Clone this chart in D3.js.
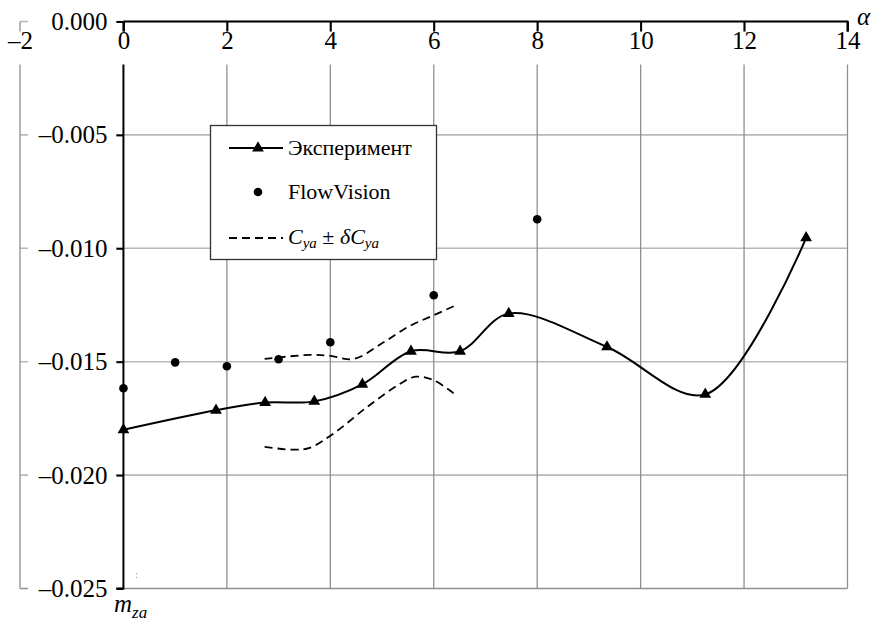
<!DOCTYPE html>
<html>
<head>
<meta charset="utf-8">
<script src="https://cdn.jsdelivr.net/npm/d3@7"></script>
</head>
<body style="margin:0">
<script>
// experiment (triangles + smooth line)
const expAlpha = [0, 1.79, 2.74, 3.69, 4.62, 5.56, 6.51, 7.45, 9.35, 11.25, 13.2];
const expM = [-0.0180, -0.01714, -0.0168, -0.01675, -0.0160, -0.01454, -0.01454, -0.01288, -0.01435, -0.01644, -0.00954];

// FlowVision points
const fvAlpha = [0, 1, 2, 3, 4, 6, 8];
const fvM = [-0.01617, -0.01503, -0.0152, -0.01489, -0.01414, -0.01207, -0.00872];

// Cya +- dCya band (dashed)
const upAlpha = [2.73, 3.6, 4.0, 4.45, 5.0, 5.5, 6.0, 6.43];
const upM = [-0.01488, -0.01470, -0.01474, -0.01488, -0.01419, -0.01347, -0.01295, -0.01251];
const loAlpha = [2.73, 3.3, 3.6, 4.06, 4.71, 5.35, 5.65, 6.0, 6.43];
const loM = [-0.01876, -0.01888, -0.01880, -0.01817, -0.01700, -0.01597, -0.01566, -0.01582, -0.01647];

// tick labels
const xTicks = [-2, 0, 2, 4, 6, 8, 10, 12, 14];
const yTicks = [0, -0.005, -0.010, -0.015, -0.020, -0.025];

const serif = "'Liberation Serif'";

const width = 874;
const height = 626;
const margin = { top: 21.5, bottom: 37.5, left: 20, right: 26.5 };

const x = d3.scaleLinear()
  .domain([-2, 14])
  .range([margin.left, width - margin.right]);
const y = d3.scaleLinear()
  .domain([-0.025, 0])
  .range([height - margin.bottom, margin.top]);

const svg = d3.select("body")
  .append("svg")
  .attr("width", width)
  .attr("height", height)
  .style("display", "block");

const fmtY = d => d === 0 ? "0.000" : "\u2013" + d3.format(".3f")(-d);

// gridlines
svg.append("g")
  .selectAll("line")
  .data(yTicks)
  .join("line")
  .attr("x1", x(-2)).attr("x2", x(14))
  .attr("y1", d => y(d)).attr("y2", d => y(d))
  .attr("stroke", d => d === -0.025 ? "#8f8f8f" : "#b8b8b8")
  .attr("stroke-width", 1.6);

svg.append("g")
  .selectAll("line")
  .data(xTicks.filter(d => d !== 0))
  .join("line")
  .attr("x1", d => x(d)).attr("x2", d => x(d))
  .attr("y1", y(0)).attr("y2", y(-0.025))
  .attr("stroke", "#8f8f8f")
  .attr("stroke-width", 1.3);

// white boxes behind y labels
svg.append("g")
  .selectAll("rect")
  .data(yTicks)
  .join("rect")
  .attr("x", 28).attr("width", 88)
  .attr("y", d => y(d) - 15).attr("height", 30)
  .attr("fill", "#fff");

// y axis
function yAxis(g) {
  g.attr("transform", `translate(${x(0)},0)`)
    .call(d3.axisLeft(y).tickValues(yTicks).tickFormat(fmtY).tickSize(7).tickPadding(9));
  g.attr("font-size", null).attr("font-family", null);
  g.selectAll("path, line").attr("stroke", "#000").attr("stroke-width", 2);
  g.select(".domain").attr("d", `M-7,${y(-0.025)}H0V${y(0)}`);
  g.selectAll("text").attr("fill", "#000").attr("font-size", "25px");
}
svg.append("g").call(yAxis);

// white boxes behind x labels
svg.append("g")
  .selectAll("rect")
  .data(xTicks)
  .join("rect")
  .attr("x", d => x(d) - 18).attr("width", 36)
  .attr("y", 31.5).attr("height", 33)
  .attr("fill", "#fff");

// x axis (on top, at m = 0)
function xAxis(g) {
  g.attr("transform", `translate(0,${y(0)})`)
    .call(d3.axisBottom(x).tickValues(xTicks).tickFormat(d => d < 0 ? "\u2013" + (-d) : d).tickSize(10).tickPadding(0));
  g.attr("font-size", null).attr("font-family", null);
  g.selectAll("path, line").attr("stroke", "#000").attr("stroke-width", 2);
  g.select(".domain").attr("d", `M${x(0)},0H${x(14)}V10`);
  g.selectAll(".tick").filter(d => d === -2).select("line").remove();
  g.selectAll("text").attr("fill", "#000").attr("font-size", "25px");
}
svg.append("g").call(xAxis);

// axis names
svg.append("text")
  .attr("x", 857).attr("y", 25)
  .attr("font-size", "25px").attr("font-style", "italic")
  .text("\u03b1");

const mza = svg.append("text")
  .attr("x", 114).attr("y", 612)
  .attr("font-size", "25px").attr("font-style", "italic");
mza.append("tspan").text("m");
mza.append("tspan").attr("font-size", "17px").attr("dy", 6).text("za");

svg.append("text")
  .attr("x", 135).attr("y", 578)
  .attr("font-size", "10px").attr("fill", "#888")
  .text(":");

// dashed band
const smooth = d3.line()
  .x(d => x(d[0]))
  .y(d => y(d[1]))
  .curve(d3.curveCatmullRom.alpha(0.5));

[d3.zip(upAlpha, upM), d3.zip(loAlpha, loM)].forEach(band => {
  svg.append("path")
    .attr("d", smooth(band))
    .attr("fill", "none")
    .attr("stroke", "#000")
    .attr("stroke-width", 1.8)
    .attr("stroke-dasharray", "8,5");
});

// experiment line
svg.append("path")
  .attr("d", smooth(d3.zip(expAlpha, expM)))
  .attr("fill", "none")
  .attr("stroke", "#000")
  .attr("stroke-width", 2);

const tri = d3.symbol().type(d3.symbolTriangle).size(60);
svg.append("g")
  .selectAll("path")
  .data(d3.zip(expAlpha, expM))
  .join("path")
  .attr("d", tri)
  .attr("transform", d => `translate(${x(d[0])},${y(d[1])})`)
  .attr("fill", "#000");

svg.append("g")
  .selectAll("circle")
  .data(d3.zip(fvAlpha, fvM))
  .join("circle")
  .attr("cx", d => x(d[0]))
  .attr("cy", d => y(d[1]))
  .attr("r", 4.3)
  .attr("fill", "#000");

// legend
const legend = svg.append("g");
legend.append("rect")
  .attr("x", 210.5).attr("y", 125.5)
  .attr("width", 226).attr("height", 134)
  .attr("fill", "#fff")
  .attr("stroke", "#333")
  .attr("stroke-width", 1.3);

legend.append("line")
  .attr("x1", 229).attr("x2", 283).attr("y1", 148).attr("y2", 148)
  .attr("stroke", "#000").attr("stroke-width", 2);
legend.append("path")
  .attr("d", tri)
  .attr("transform", "translate(258,148)");
legend.append("text")
  .attr("x", 288).attr("y", 155)
  .attr("font-size", "22px")
  .text("Эксперимент");

legend.append("circle")
  .attr("cx", 258).attr("cy", 192).attr("r", 4.3);
legend.append("text")
  .attr("x", 288).attr("y", 199)
  .attr("font-size", "22px")
  .text("FlowVision");

legend.append("line")
  .attr("x1", 229).attr("x2", 283).attr("y1", 238).attr("y2", 238)
  .attr("stroke", "#000").attr("stroke-width", 1.8)
  .attr("stroke-dasharray", "8,5");
const cya = legend.append("text")
  .attr("x", 288).attr("y", 244)
  .attr("font-size", "22px");
cya.append("tspan").attr("font-style", "italic").text("C");
cya.append("tspan").attr("font-style", "italic").attr("font-size", "15px").attr("dy", 4).text("ya");
cya.append("tspan").attr("dy", -4).text(" \u00b1 ");
cya.append("tspan").attr("font-style", "italic").text("\u03b4C");
cya.append("tspan").attr("font-style", "italic").attr("font-size", "15px").attr("dy", 4).text("ya");

// all text in Times-like serif
svg.selectAll("text").style("font-family", serif);
</script>
</body>
</html>
